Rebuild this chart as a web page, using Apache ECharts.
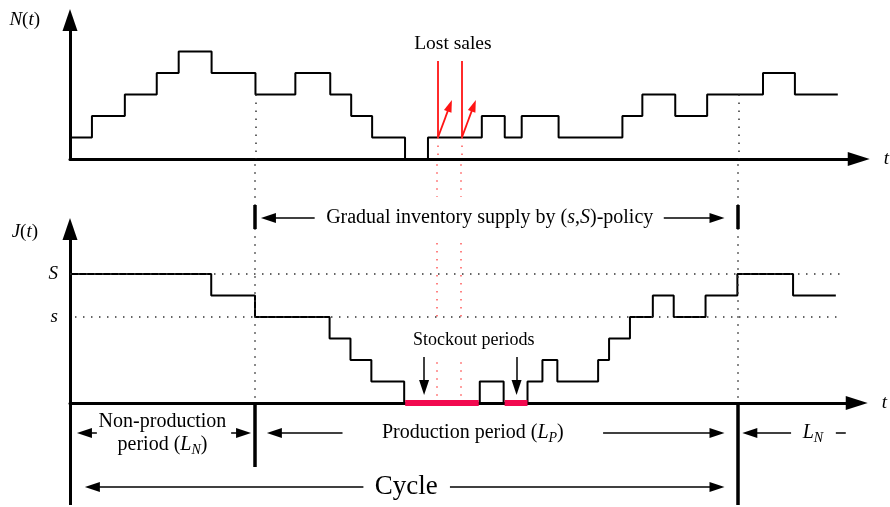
<!DOCTYPE html>
<html>
<head>
<meta charset="utf-8">
<script src="https://cdn.jsdelivr.net/npm/echarts@6/dist/echarts.min.js"></script>
<style>
  html, body { margin: 0; padding: 0; background: #fff; }
  #chart { width: 890px; height: 507px; }
</style>
</head>
<body>
<div id="chart"></div>
<script>
// time runs along both plots on the same scale, 0 = origin
const nTimes = [0, 22, 55, 87, 109, 142, 186, 226, 261, 282, 303, 336, 359, 413, 436, 453, 490, 554, 574, 607, 639, 695, 727, 770];
const nLevels = [1, 2, 3, 4, 5, 4, 3, 4, 3, 2, 1, 0, 1, 2, 1, 2, 1, 2, 3, 2, 3, 4, 3, 3];

const jTimes = [0, 142, 186, 261, 282, 303, 336, 412, 436, 460, 475, 490, 531, 542, 563, 586, 607, 639, 671, 727, 770];
const jLevels = [6, 5, 4, 3, 2, 1, 0, 1, 0, 1, 2, 1, 2, 3, 4, 5, 4, 5, 6, 5, 5];

const stockouts = [[337, 411], [437, 460]];
const lostSalesTimes = [369, 393];
const phaseTimes = [186, 671]; // production starts / stops
const levelS = 6;
const levels = 4;
const tMax = 791;

const font = "'Liberation Serif', 'Times New Roman', serif";
function richFor(size) {
  return {
    i: { fontStyle: 'italic', fontFamily: font, fontSize: size, color: '#000' },
    sub: { fontStyle: 'italic', fontFamily: font, fontSize: Math.round(size * 0.68), color: '#000',
      padding: [Math.round(size / 2), 0, 0, 0] }
  };
}

const solid = { color: '#000', width: 1.5, type: 'solid' };
const thick = { color: '#000', width: 3.5, type: 'solid' };
const dotBlack = { color: '#333', width: 1.5, type: [1.5, 6.5] };
const dotRed = { color: '#ff5a5a', width: 1.5, type: [1.5, 6.5] };
const red = { color: '#ff1414', width: 1.8, type: 'solid' };
const stockStyle = { color: '#f2094f', width: 6, type: 'solid' };
const head = [10, 15];

function seg(t1, y1, t2, y2, style, arrow) {
  return [
    { coord: [t1, y1], symbol: 'none', lineStyle: style },
    { coord: [t2, y2], symbol: arrow ? 'triangle' : 'none', symbolSize: arrow || 1 }
  ];
}

function text(t, y, str, size) {
  return {
    coord: [t, y],
    symbol: 'rect',
    symbolSize: 1,
    itemStyle: { color: 'rgba(0,0,0,0)' },
    label: {
      show: true, position: 'inside', formatter: str, color: '#000',
      fontFamily: font, fontSize: size, lineHeight: 23, rich: richFor(size)
    }
  };
}

function steps(times, vals) {
  return times.map((t, k) => [t, vals[k]]);
}

const topLines = [];
lostSalesTimes.forEach(t => {
  topLines.push(seg(t, 1, t, 4.558, red));
  topLines.push(seg(t, 1, t + 11.9, 2.48, red, [8, 12]));
  topLines.push(seg(t, 1, t, 0, dotRed));
});
phaseTimes.forEach(t => topLines.push(seg(t, 3, t, 0, dotBlack)));

const bottomLines = [];
bottomLines.push(seg(0, -4.744, 0, 8.093, { color: '#000', width: 3, type: 'solid' }, [15, 22]));
phaseTimes.forEach(t => {
  bottomLines.push(seg(t, 11.1, t, 0, dotBlack));
  bottomLines.push(seg(t, 9.21, t, 8.09, thick));
});
lostSalesTimes.forEach(t => {
  bottomLines.push(seg(t, 11.1, t, 9.58, dotRed));
  bottomLines.push(seg(t, 7.44, t, levels, dotRed));
  bottomLines.push(seg(t, 1.9, t, 0.23, dotRed));
});
bottomLines.push(seg(0, levelS, 777, levelS, dotBlack));
bottomLines.push(seg(5, levels, 777, levels, dotBlack));
bottomLines.push(seg(phaseTimes[0], 0, phaseTimes[0], -2.977, thick));
bottomLines.push(seg(phaseTimes[1], 0, phaseTimes[1], -4.744, thick));
stockouts.forEach(p => bottomLines.push(seg(p[0], 0, p[1], 0, stockStyle)));
// arrows
bottomLines.push(seg(246, 8.605, 199.5, 8.605, solid, head));
bottomLines.push(seg(597, 8.605, 650.5, 8.605, solid, head));
bottomLines.push(seg(27, -1.395, 14.5, -1.395, solid, head));
bottomLines.push(seg(162, -1.395, 174.5, -1.395, solid, head));
bottomLines.push(seg(274, -1.395, 205.5, -1.395, solid, head));
bottomLines.push(seg(536, -1.395, 650.5, -1.395, solid, head));
bottomLines.push(seg(725, -1.395, 683.5, -1.395, solid, head));
bottomLines.push(seg(770, -1.395, 780, -1.395, solid));
bottomLines.push(seg(295, -3.907, 22.5, -3.907, solid, head));
bottomLines.push(seg(382, -3.907, 650.5, -3.907, solid, head));
bottomLines.push(seg(356, 2.14, 356, 0.721, solid, head));
bottomLines.push(seg(449, 2.14, 449, 0.721, solid, head));

const axisArrow = (size) => ({
  show: true, symbol: ['none', 'triangle'], symbolSize: size,
  lineStyle: { color: '#000', width: 3 }
});

const chart = echarts.init(document.getElementById('chart'));
chart.setOption({
  animation: false,
  backgroundColor: '#fff',
  grid: [
    { left: 70, top: 20, width: 791, height: 139 },
    { left: 70, top: 162, width: 791, height: 345 }
  ],
  xAxis: [0, 1].map(g => ({
    type: 'value', gridIndex: g, min: 0, max: tMax,
    axisLine: axisArrow([14, 22]),
    axisTick: { show: false }, axisLabel: { show: false }, splitLine: { show: false },
    name: '{i|t}', nameLocation: 'end', nameGap: 25,
    nameTextStyle: { rich: richFor(19) }
  })),
  yAxis: [
    {
      type: 'value', gridIndex: 0, min: 0, max: 6.465,
      axisLine: axisArrow([15, 22]),
      axisTick: { show: false }, axisLabel: { show: false }, splitLine: { show: false },
      name: '{i|N}({i|t})', nameLocation: 'end', nameGap: 0,
      nameTextStyle: { align: 'right', verticalAlign: 'middle', padding: [0, 30, 0, 0],
        fontFamily: font, fontSize: 19, color: '#000', rich: richFor(19) }
    },
    {
      type: 'value', gridIndex: 1, min: -4.837, max: 11.209,
      axisLine: { show: false },
      axisTick: { show: false }, splitLine: { show: false },
      axisLabel: {
        show: true, customValues: [levels, levelS], margin: 12,
        formatter: v => (v === levelS ? 'S' : 's'),
        fontFamily: font, fontStyle: 'italic', fontSize: 19, color: '#000'
      },
      name: '{i|J}({i|t})', nameLocation: 'end', nameGap: -70,
      nameTextStyle: { align: 'right', verticalAlign: 'middle', padding: [0, 32, 0, 0],
        fontFamily: font, fontSize: 19, color: '#000', rich: richFor(19) }
    }
  ],
  series: [
    {
      type: 'line', xAxisIndex: 0, yAxisIndex: 0, step: 'end',
      data: steps(nTimes, nLevels), showSymbol: false, symbol: 'none', clip: false,
      lineStyle: { color: '#000', width: 2 }, silent: true,
      markLine: { silent: true, symbol: ['none', 'none'], label: { show: false }, data: topLines },
      markPoint: { silent: true, data: [text(384, 5.349, 'Lost sales', 19.5)] }
    },
    {
      type: 'line', xAxisIndex: 1, yAxisIndex: 1, step: 'end',
      data: steps(jTimes, jLevels), showSymbol: false, symbol: 'none', clip: false,
      lineStyle: { color: '#000', width: 2 }, silent: true,
      markLine: { silent: true, symbol: ['none', 'none'], label: { show: false }, data: bottomLines },
      markPoint: {
        silent: true,
        data: [
          text(422, 8.605, 'Gradual inventory supply by ({i|s},{i|S})-policy', 20),
          text(93, -1.419, 'Non-production\nperiod ({i|L}{sub|N})', 20),
          text(405, -1.395, 'Production period ({i|L}{sub|P})', 20),
          text(747, -1.395, '{i|L}{sub|N}', 20),
          text(338, -3.907, 'Cycle', 27),
          text(406, 2.93, 'Stockout periods', 18)
        ]
      }
    }
  ]
});
</script>
</body>
</html>
